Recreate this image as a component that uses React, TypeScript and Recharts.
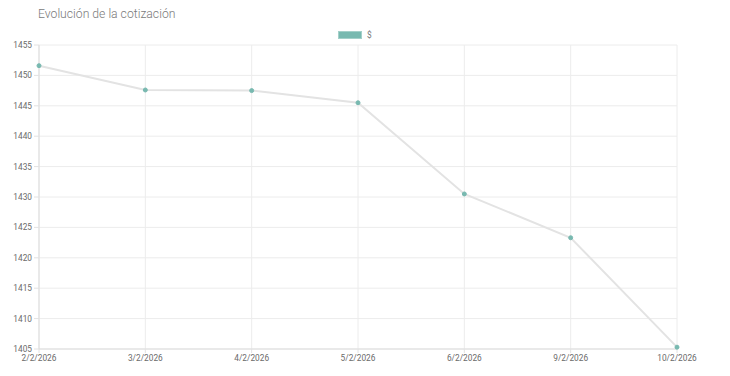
import { LineChart, Line, XAxis, YAxis, CartesianGrid } from 'recharts';

const fechas = ['2/2/2026', '3/2/2026', '4/2/2026', '5/2/2026', '6/2/2026', '9/2/2026', '10/2/2026'];
const cotizacion = [1451.6, 1447.6, 1447.5, 1445.5, 1430.5, 1423.3, 1405.3];
const yTicks = [1405, 1410, 1415, 1420, 1425, 1430, 1435, 1440, 1445, 1450, 1455];

const data = fechas.map((fecha, i) => ({ fecha, valor: cotizacion[i] }));

const TEAL = '#78b9b0';
const tickStyle = { fontSize: 8.3, fill: '#6a6a6a', fontFamily: 'Roboto, Arial, sans-serif' };

export default function App() {
  return (
    <div style={{ position: 'fixed', left: 0, top: 0, width: 730, height: 376, background: '#fff' }}>
      <div
        style={{
          position: 'absolute', left: 38, top: 7, fontSize: 12.2, fontWeight: 300,
          color: '#7a7a7a', fontFamily: 'Roboto, sans-serif',
        }}
      >
        Evolución de la cotización
      </div>
      <div
        style={{
          position: 'absolute', left: 338, top: 30, display: 'flex', alignItems: 'center',
          fontSize: 8.3, color: '#777', fontFamily: 'Roboto, sans-serif',
        }}
      >
        <span style={{ display: 'inline-block', width: 24, height: 8, background: TEAL, border: '1px solid #a3d0c9', boxSizing: 'border-box' }} />
        <span style={{ marginLeft: 5 }}>$</span>
      </div>
      <LineChart width={730} height={376} data={data} margin={{ top: 45, right: 53, left: 0, bottom: 0 }}>
        <CartesianGrid stroke="#ececec" />
        <XAxis
          dataKey="fecha"
          height={27}
          tick={tickStyle}
          tickLine={{ stroke: '#e2e2e2' }}
          tickSize={4}
          axisLine={{ stroke: '#ddd' }}
          interval={0}
        />
        <YAxis
          domain={[1405, 1455]}
          ticks={yTicks}
          width={39}
          tick={tickStyle}
          tickLine={{ stroke: '#e2e2e2' }}
          tickSize={5}
          axisLine={{ stroke: '#ddd' }}
        />
        <Line
          type="linear"
          dataKey="valor"
          stroke="#e3e3e3"
          strokeWidth={2}
          dot={{ r: 2, fill: TEAL, stroke: TEAL, strokeWidth: 1 }}
          isAnimationActive={false}
        />
      </LineChart>
    </div>
  );
}
